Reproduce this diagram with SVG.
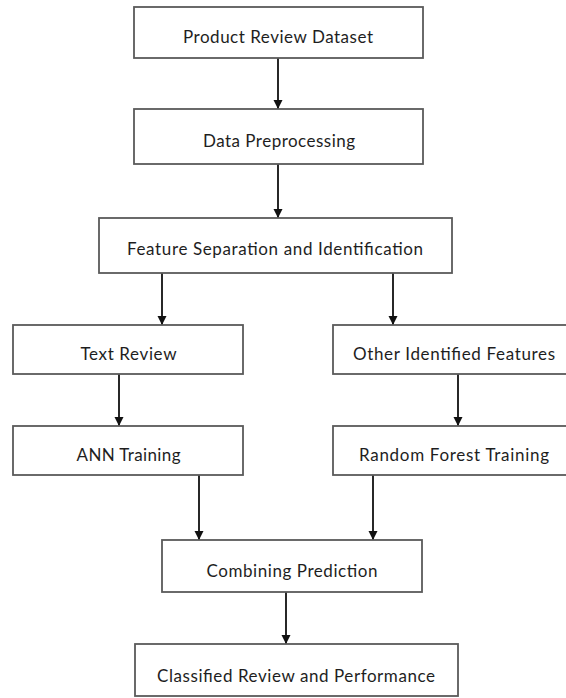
<svg xmlns="http://www.w3.org/2000/svg" width="566" height="698" viewBox="0 0 566 698">
<defs>
<marker id="ah" markerWidth="10" markerHeight="10" refX="9" refY="5" orient="auto" markerUnits="userSpaceOnUse">
<path d="M0,0.5 L9,5 L0,9.5 Z" fill="#111"/>
</marker>
<style>
.box{fill:#fff;stroke:#5a5a5a;stroke-width:1.8}
.lbl{font-family:Lato,"Open Sans","Liberation Sans",sans-serif;font-size:17px;fill:#1e1e1e;text-anchor:middle}
.con{stroke:#111;stroke-width:1.8;fill:none;marker-end:url(#ah)}
</style>
</defs>
<rect width="566" height="698" fill="#fff"/>
<g id="connectors">
<line class="con" x1="278" y1="58" x2="278" y2="109"/>
<line class="con" x1="278" y1="164" x2="278" y2="218"/>
<line class="con" x1="162" y1="273" x2="162" y2="325"/>
<line class="con" x1="393" y1="273" x2="393" y2="325"/>
<line class="con" x1="119" y1="374" x2="119" y2="426"/>
<line class="con" x1="458" y1="374" x2="458" y2="426"/>
<line class="con" x1="199" y1="475" x2="199" y2="540"/>
<line class="con" x1="373" y1="475" x2="373" y2="540"/>
<line class="con" x1="286" y1="592" x2="286" y2="644"/>
</g>
<g id="n1"><rect class="box" x="134" y="7" width="289" height="51"/><text class="lbl" x="278" y="43" textLength="190">Product Review Dataset</text></g>
<g id="n2"><rect class="box" x="134" y="109" width="289" height="55"/><text class="lbl" x="279" y="147" textLength="152">Data Preprocessing</text></g>
<g id="n3"><rect class="box" x="99" y="218" width="353" height="55"/><text class="lbl" x="275" y="255" textLength="296">Feature Separation and Identification</text></g>
<g id="n4"><rect class="box" x="13" y="325" width="230" height="49"/><text class="lbl" x="128.5" y="360" textLength="96">Text Review</text></g>
<g id="n5"><rect class="box" x="333" y="325" width="250" height="49"/><text class="lbl" x="454" y="360" textLength="202">Other Identified Features</text></g>
<g id="n6"><rect class="box" x="13" y="426" width="230" height="49"/><text class="lbl" x="128.5" y="461" textLength="104">ANN Training</text></g>
<g id="n7"><rect class="box" x="333" y="426" width="250" height="49"/><text class="lbl" x="454" y="461" textLength="190">Random Forest Training</text></g>
<g id="n8"><rect class="box" x="162" y="540" width="260" height="52"/><text class="lbl" x="292" y="577" textLength="171">Combining Prediction</text></g>
<g id="n9"><rect class="box" x="135" y="644" width="323" height="52"/><text class="lbl" x="296" y="682" textLength="278">Classified Review and Performance</text></g>
</svg>
